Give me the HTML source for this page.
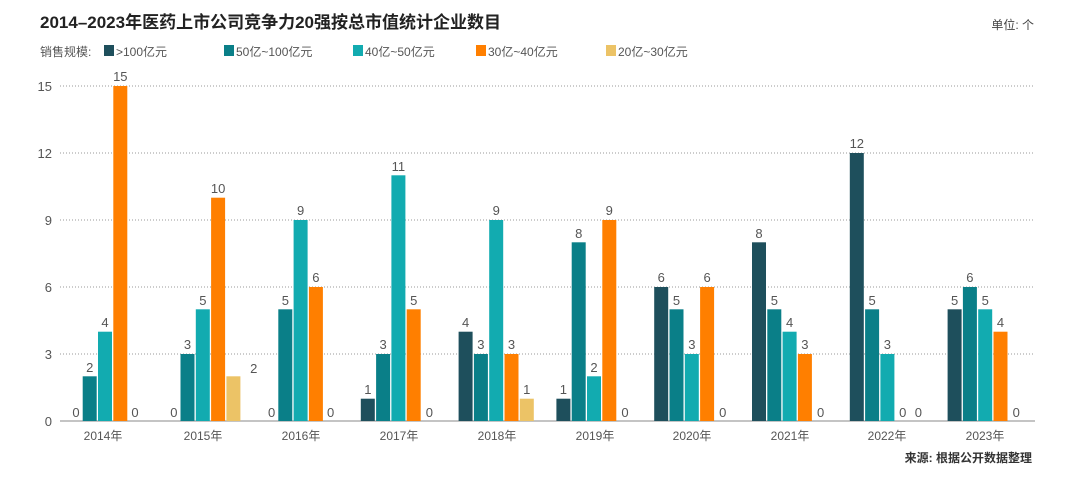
<!DOCTYPE html><html><head><meta charset="utf-8"><style>
body{margin:0;background:#fff}
svg{display:block;font-family:"Liberation Sans","Noto Sans CJK SC",sans-serif}
.v{font-size:13px;fill:#555;text-anchor:middle}
</style></head><body>
<svg width="1080" height="483" viewBox="0 0 1080 483">
<text x="40" y="28" font-size="17" font-weight="bold" fill="#222">2014–2023年医药上市公司竞争力20强按总市值统计企业数目</text>
<text x="1034" y="29" font-size="12" fill="#444" text-anchor="end">单位: 个</text>
<g font-size="12" fill="#555">
<text x="40" y="56">销售规模:</text>
<rect x="104" y="45" width="10" height="11" fill="#1e4f5c"/><text x="116" y="56">&gt;100亿元</text>
<rect x="224" y="45" width="10" height="11" fill="#0a7f88"/><text x="236" y="56">50亿~100亿元</text>
<rect x="353" y="45" width="10" height="11" fill="#12abb0"/><text x="365" y="56">40亿~50亿元</text>
<rect x="476" y="45" width="10" height="11" fill="#ff7f00"/><text x="488" y="56">30亿~40亿元</text>
<rect x="606" y="45" width="10" height="11" fill="#ecc366"/><text x="618" y="56">20亿~30亿元</text>
</g>
<g stroke="#999" stroke-dasharray="1,2" stroke-width="1">
<line x1="60" y1="86" x2="1035" y2="86"/><line x1="60" y1="153" x2="1035" y2="153"/><line x1="60" y1="220" x2="1035" y2="220"/><line x1="60" y1="287" x2="1035" y2="287"/><line x1="60" y1="354" x2="1035" y2="354"/>
</g>
<line x1="60" y1="421" x2="1035" y2="421" stroke="#888" stroke-width="1"/>
<g font-size="13" fill="#555" text-anchor="end">
<text x="52" y="91">15</text><text x="52" y="158">12</text><text x="52" y="225">9</text><text x="52" y="292">6</text><text x="52" y="359">3</text><text x="52" y="426">0</text>
</g>
<g font-size="12" fill="#555" text-anchor="middle">
<text x="103" y="440">2014年</text><text x="203" y="440">2015年</text><text x="301" y="440">2016年</text><text x="399" y="440">2017年</text><text x="497" y="440">2018年</text><text x="595" y="440">2019年</text><text x="692" y="440">2020年</text><text x="790" y="440">2021年</text><text x="887" y="440">2022年</text><text x="985" y="440">2023年</text>
</g>
<text x="1032" y="462" font-size="12" font-weight="bold" fill="#333" text-anchor="end">来源: 根据公开数据整理</text>

<!-- 2014 -->
<g transform="translate(105,0)">
<rect x="-22.3" y="376.3" width="14" height="44.7" fill="#0a7f88"/><rect x="-7" y="331.7" width="14" height="89.3" fill="#12abb0"/><rect x="8.3" y="86" width="14" height="335" fill="#ff7f00"/>
<text class="v" x="-29" y="417">0</text><text class="v" x="-15.3" y="372">2</text><text class="v" x="0" y="327">4</text><text class="v" x="15.3" y="81">15</text><text class="v" x="30" y="417">0</text>
</g>
<!-- 2015 -->
<g transform="translate(202.8,0)">
<rect x="-22.3" y="354" width="14" height="67" fill="#0a7f88"/><rect x="-7" y="309.3" width="14" height="111.7" fill="#12abb0"/><rect x="8.3" y="197.7" width="14" height="223.3" fill="#ff7f00"/><rect x="23.6" y="376.3" width="14" height="44.7" fill="#ecc366"/>
<text class="v" x="-29" y="417">0</text><text class="v" x="-15.3" y="349">3</text><text class="v" x="0" y="305">5</text><text class="v" x="15.3" y="193">10</text><text class="v" x="51" y="373">2</text>
</g>
<!-- 2016 -->
<g transform="translate(300.6,0)">
<rect x="-22.3" y="309.3" width="14" height="111.7" fill="#0a7f88"/><rect x="-7" y="220" width="14" height="201" fill="#12abb0"/><rect x="8.3" y="287" width="14" height="134" fill="#ff7f00"/>
<text class="v" x="-29" y="417">0</text><text class="v" x="-15.3" y="305">5</text><text class="v" x="0" y="215">9</text><text class="v" x="15.3" y="282">6</text><text class="v" x="30" y="417">0</text>
</g>
<!-- 2017 -->
<g transform="translate(398.4,0)">
<rect x="-37.6" y="398.7" width="14" height="22.3" fill="#1e4f5c"/><rect x="-22.3" y="354" width="14" height="67" fill="#0a7f88"/><rect x="-7" y="175.3" width="14" height="245.7" fill="#12abb0"/><rect x="8.3" y="309.3" width="14" height="111.7" fill="#ff7f00"/>
<text class="v" x="-30.6" y="394">1</text><text class="v" x="-15.3" y="349">3</text><text class="v" x="0" y="171">11</text><text class="v" x="15.3" y="305">5</text><text class="v" x="31" y="417">0</text>
</g>
<!-- 2018 -->
<g transform="translate(496.2,0)">
<rect x="-37.6" y="331.7" width="14" height="89.3" fill="#1e4f5c"/><rect x="-22.3" y="354" width="14" height="67" fill="#0a7f88"/><rect x="-7" y="220" width="14" height="201" fill="#12abb0"/><rect x="8.3" y="354" width="14" height="67" fill="#ff7f00"/><rect x="23.6" y="398.7" width="14" height="22.3" fill="#ecc366"/>
<text class="v" x="-30.6" y="327">4</text><text class="v" x="-15.3" y="349">3</text><text class="v" x="0" y="215">9</text><text class="v" x="15.3" y="349">3</text><text class="v" x="30.6" y="394">1</text>
</g>
<!-- 2019 -->
<g transform="translate(594,0)">
<rect x="-37.6" y="398.7" width="14" height="22.3" fill="#1e4f5c"/><rect x="-22.3" y="242.3" width="14" height="178.7" fill="#0a7f88"/><rect x="-7" y="376.3" width="14" height="44.7" fill="#12abb0"/><rect x="8.3" y="220" width="14" height="201" fill="#ff7f00"/>
<text class="v" x="-30.6" y="394">1</text><text class="v" x="-15.3" y="238">8</text><text class="v" x="0" y="372">2</text><text class="v" x="15.3" y="215">9</text><text class="v" x="31" y="417">0</text>
</g>
<!-- 2020 -->
<g transform="translate(691.8,0)">
<rect x="-37.6" y="287" width="14" height="134" fill="#1e4f5c"/><rect x="-22.3" y="309.3" width="14" height="111.7" fill="#0a7f88"/><rect x="-7" y="354" width="14" height="67" fill="#12abb0"/><rect x="8.3" y="287" width="14" height="134" fill="#ff7f00"/>
<text class="v" x="-30.6" y="282">6</text><text class="v" x="-15.3" y="305">5</text><text class="v" x="0" y="349">3</text><text class="v" x="15.3" y="282">6</text><text class="v" x="31" y="417">0</text>
</g>
<!-- 2021 -->
<g transform="translate(789.6,0)">
<rect x="-37.6" y="242.3" width="14" height="178.7" fill="#1e4f5c"/><rect x="-22.3" y="309.3" width="14" height="111.7" fill="#0a7f88"/><rect x="-7" y="331.7" width="14" height="89.3" fill="#12abb0"/><rect x="8.3" y="354" width="14" height="67" fill="#ff7f00"/>
<text class="v" x="-30.6" y="238">8</text><text class="v" x="-15.3" y="305">5</text><text class="v" x="0" y="327">4</text><text class="v" x="15.3" y="349">3</text><text class="v" x="31" y="417">0</text>
</g>
<!-- 2022 -->
<g transform="translate(887.4,0)">
<rect x="-37.6" y="153" width="14" height="268" fill="#1e4f5c"/><rect x="-22.3" y="309.3" width="14" height="111.7" fill="#0a7f88"/><rect x="-7" y="354" width="14" height="67" fill="#12abb0"/>
<text class="v" x="-30.6" y="148">12</text><text class="v" x="-15.3" y="305">5</text><text class="v" x="0" y="349">3</text><text class="v" x="15.3" y="417">0</text><text class="v" x="31" y="417">0</text>
</g>
<!-- 2023 -->
<g transform="translate(985.2,0)">
<rect x="-37.6" y="309.3" width="14" height="111.7" fill="#1e4f5c"/><rect x="-22.3" y="287" width="14" height="134" fill="#0a7f88"/><rect x="-7" y="309.3" width="14" height="111.7" fill="#12abb0"/><rect x="8.3" y="331.7" width="14" height="89.3" fill="#ff7f00"/>
<text class="v" x="-30.6" y="305">5</text><text class="v" x="-15.3" y="282">6</text><text class="v" x="0" y="305">5</text><text class="v" x="15.3" y="327">4</text><text class="v" x="31" y="417">0</text>
</g>
</svg>
</body></html>
